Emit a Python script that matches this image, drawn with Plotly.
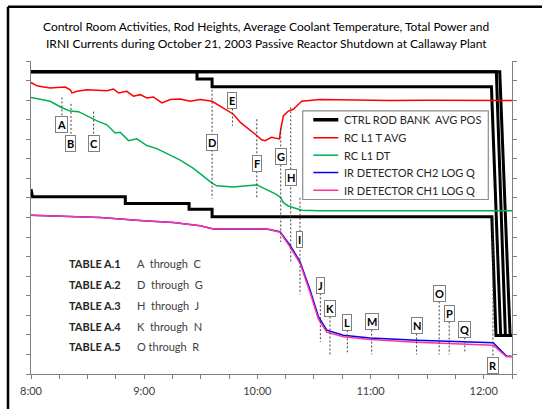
import plotly.graph_objects as go

# ---------------- data (minutes after 8:00, values on 0-16 chart scale) -------------
red_t = [0, 3.2, 6.7, 10.2, 13.8, 18.2, 20.8, 21.7, 24.4, 29.7, 35.0, 40.2, 43.7, 46.4, 50.8,
         54.3, 57.9, 61.4, 64.9, 69.4, 73.8, 79.1, 84.4, 89.7, 96.0, 101.5, 107.3, 111.0,
         114.4, 119.7, 122.3, 124.1, 127.6, 130.3, 131.7, 132.4, 133.8, 136.4, 139.1, 141.7,
         143.5, 153.1, 170, 190, 210, 230, 245, 255]
red_v = [14.90, 14.73, 14.67, 14.62, 14.65, 14.67, 14.53, 14.37, 14.45, 14.53, 14.50, 14.48,
         14.57, 14.37, 14.45, 14.20, 14.28, 14.11, 14.16, 13.86, 14.03, 14.06, 13.94, 14.03,
         13.94, 13.62, 13.28, 12.86, 12.61, 12.19, 11.97, 11.93, 12.10, 12.06, 12.02, 12.52,
         13.19, 13.44, 13.53, 13.78, 13.94, 14.03, 14.00, 13.98, 13.99, 13.97, 13.98, 13.98]

green_t = [0, 4.9, 10.2, 16.4, 20.8, 25.2, 29.7, 35.0, 40.2, 44.6, 47.3, 51.7, 56.1, 61.4,
           66.7, 72.0, 79.1, 86.1, 91.4, 96.0, 98.5, 107.3, 114.4, 119.7, 121.4, 126.7,
           130.3, 132.4, 133.8, 136.4, 140.0, 143.5, 153.1, 255]
green_v = [14.14, 14.03, 13.94, 13.61, 13.44, 13.41, 13.19, 12.94, 12.74, 12.32, 12.36, 11.93,
           12.02, 11.68, 11.52, 11.27, 10.93, 10.51, 10.10, 9.76, 9.62, 9.56, 9.62, 9.67,
           9.59, 9.34, 9.17, 9.01, 8.76, 8.59, 8.47, 8.37, 8.34, 8.34]

ir_t = [0, 19.1, 36.7, 59.6, 75.5, 89.7, 96.7, 125.0, 132.0, 137.3, 142.6, 148.0, 152.3,
        156.8, 165.6, 179.7, 204.4, 245.0, 252.1, 255]
ch1_v = [8.12, 8.05, 8.00, 7.84, 7.75, 7.58, 7.41, 7.41, 7.25, 6.50, 5.66, 4.15, 2.81,
         2.14, 1.90, 1.76, 1.62, 1.47, 0.88, 0.88]
ch2_v = [8.12, 8.05, 8.00, 7.84, 7.75, 7.58, 7.41, 7.41, 7.27, 6.58, 5.75, 4.28, 2.95,
         2.24, 1.98, 1.84, 1.72, 1.60, 0.92, 0.90]

bank1_t = [0, 248.5, 254.0, 255]
bank1_v = [15.45, 15.45, 1.97, 1.97]
bank2_t = [0, 88.0, 88.0, 96.0, 96.0, 244.1, 249.0, 255]
bank2_v = [15.45, 15.45, 15.08, 15.08, 14.68, 14.68, 1.97, 1.97]
bank3_t = [0, 0.8, 50.0, 50.0, 83.8, 83.8, 96.0, 96.0, 244.3, 246.5, 255]
bank3_v = [9.45, 9.06, 9.06, 8.72, 8.72, 8.42, 8.42, 8.04, 8.04, 1.97, 1.97]
bank4_t = [0, 246.7, 251.5, 255]
bank4_v = [15.45, 15.45, 1.97, 1.97]

series_names = ["CTRL ROD BANK  AVG POS", "RC L1 T AVG", "RC L1 DT",
                "IR DETECTOR CH2 LOG Q", "IR DETECTOR CH1 LOG Q"]
series_colors = ["black", "#FF0000", "#00B050", "#0000FF", "#FF3399"]

event_letters = list("ABCDEFGHIJKLMNOPQR")
event_times = [16.4, 21.2, 33.2, 96.0, 106.8, 119.7, 132.4, 137.7, 142.6, 153.4,
               158.5, 167.7, 180.6, 204.4, 216.4, 221.7, 230.0, 244.9]

tick_minutes = list(range(0, 256, 15))
tick_labels = [f"{8 + m // 60}:00" if m % 60 == 0 else "" for m in tick_minutes]

table_names = ["TABLE A.1", "TABLE A.2", "TABLE A.3", "TABLE A.4", "TABLE A.5"]
table_ranges = ["A  through  C", "D  through  G", "H  through  J", "K  through  N", "O through  R"]

title_lines = ["Control Room Activities, Rod Heights, Average Coolant Temperature, Total Power and",
               "IRNI Currents during October 21, 2003 Passive Reactor Shutdown at Callaway Plant"]

# ---------------- layout helpers (positions only) ----------------
W, H = 542, 409
ML, MR, MT, MB = 31, 30, 61, 30
PW, PH = W - ML - MR, H - MT - MB


def px(xp):  # pixel x -> paper
    return (xp - ML) / PW


def py(yp):  # pixel y -> paper
    return (H - MB - yp) / PH


box_y = [12.77, 11.80, 11.77, 11.85, 13.98, 10.77, 11.13, 10.06, 6.86, 4.54,
         3.35, 2.64, 2.68, 2.48, 4.12, 3.09, 2.28, 0.45]
line_top = [14.14, 13.81, 13.41, 14.53, 13.98, 13.02, 12.55, 13.63, 9.01, 4.54,
            3.35, 2.64, 2.68, 2.48, 4.12, 3.09, 2.28, 8.0]
line_bot = [12.77, 11.80, 11.77, 8.97, 12.69, 8.97, 6.75, 5.74, 4.07, 1.64,
            1.00, 1.00, 1.00, 1.00, 1.00, 1.00, 1.06, 0.45]

FONT = "Lato"
fig = go.Figure()

black = dict(color="black", width=3)
for bt, bv in [(bank1_t, bank1_v), (bank2_t, bank2_v), (bank3_t, bank3_v), (bank4_t, bank4_v)]:
    fig.add_trace(go.Scatter(x=bt, y=bv, mode="lines", line=black, name=series_names[0],
                             showlegend=False, legendgroup="rod"))
fig.add_trace(go.Scatter(x=red_t, y=red_v, mode="lines", name=series_names[1],
                         line=dict(color=series_colors[1], width=1.5), showlegend=False))
fig.add_trace(go.Scatter(x=green_t, y=green_v, mode="lines", name=series_names[2],
                         line=dict(color=series_colors[2], width=1.5), showlegend=False))
fig.add_trace(go.Scatter(x=ir_t, y=ch2_v, mode="lines", name=series_names[3],
                         line=dict(color=series_colors[3], width=1.5), showlegend=False))
fig.add_trace(go.Scatter(x=ir_t, y=ch1_v, mode="lines", name=series_names[4],
                         line=dict(color=series_colors[4], width=1.5), showlegend=False))

shapes = []
annotations = []
for L, t, by, lt, lb in zip(event_letters, event_times, box_y, line_top, line_bot):
    shapes.append(dict(type="line", xref="x", yref="y", x0=t, x1=t, y0=lt, y1=lb,
                       line=dict(color="#404040", width=1, dash="2px,2px")))
    annotations.append(dict(x=t, y=by, xref="x", yref="y", text=f"<b>{L}</b>",
                            showarrow=False, bgcolor="white", bordercolor="#7F7F7F",
                            borderwidth=1, borderpad=1,
                            font=dict(family=FONT, size=11, color="black")))

table_y = [5.66, 4.58, 3.52, 2.44, 1.39]
for name, rng, ty in zip(table_names, table_ranges, table_y):
    annotations.append(dict(x=19.1, y=ty, xref="x", yref="y", xanchor="left",
                            text=f"<b>{name}</b>", showarrow=False,
                            font=dict(family=FONT, size=11, color="#262626")))
    annotations.append(dict(x=55.2, y=ty, xref="x", yref="y", xanchor="left",
                            text=rng, showarrow=False,
                            font=dict(family=FONT, size=11, color="#404040")))

# legend box (drawn by hand to match the original spacing)
shapes.append(dict(type="rect", xref="paper", yref="paper", x0=px(302.7), x1=px(488.3),
                   y0=py(201.7), y1=py(111.7), fillcolor="white",
                   line=dict(color="#8C8C8C", width=1.2)))
leg_rows = [120.7, 139.0, 156.7, 174.3, 192.3]
for name, col, ry in zip(series_names, series_colors, leg_rows):
    shapes.append(dict(type="line", xref="paper", yref="paper", x0=px(313.3), x1=px(338.3),
                       y0=py(ry), y1=py(ry),
                       line=dict(color=col, width=3.5 if col == "black" else 1.5)))
    annotations.append(dict(x=px(341.5), y=py(ry), xref="paper", yref="paper",
                            xanchor="left", yanchor="middle", text=name, showarrow=False,
                            font=dict(family=FONT, size=11, color="#262626")))

# title, two centred lines
for line, ty in zip(title_lines, [25.5, 43.5]):
    annotations.append(dict(x=(266 - ML) / PW, y=py(ty), xref="paper", yref="paper",
                            xanchor="center", yanchor="middle", text=line, showarrow=False,
                            font=dict(family=FONT, size=12, color="black")))

# outer frame (left + top edges of the original figure border)
shapes.append(dict(type="line", xref="paper", yref="paper", x0=px(8), x1=px(560),
                   y0=py(6), y1=py(6), line=dict(color="black", width=2.5)))
shapes.append(dict(type="line", xref="paper", yref="paper", x0=px(8), x1=px(8),
                   y0=py(6), y1=py(430), line=dict(color="black", width=2.5)))

fig.update_layout(
    width=W, height=H,
    margin=dict(l=ML, r=MR, t=MT, b=MB),
    paper_bgcolor="white", plot_bgcolor="white",
    xaxis=dict(range=[0, 255], tickvals=tick_minutes, ticktext=tick_labels,
               showgrid=False, zeroline=False, showline=True, linecolor="#808080",
               linewidth=1, ticks="outside", ticklen=4, tickcolor="#808080",
               ticklabelstandoff=3,
               tickfont=dict(family=FONT, size=11, color="#404040")),
    yaxis=dict(range=[0, 16], dtick=1, showticklabels=False, showgrid=False,
               zeroline=False, showline=True, linecolor="#808080", linewidth=1,
               ticks="outside", ticklen=4, tickcolor="#808080", mirror="ticks"),
    shapes=shapes, annotations=annotations,
    showlegend=False,
)

fig.write_html("out.html", config={"displayModeBar": False},
               post_script="document.body.style.margin='0';document.body.style.overflow='hidden';")
